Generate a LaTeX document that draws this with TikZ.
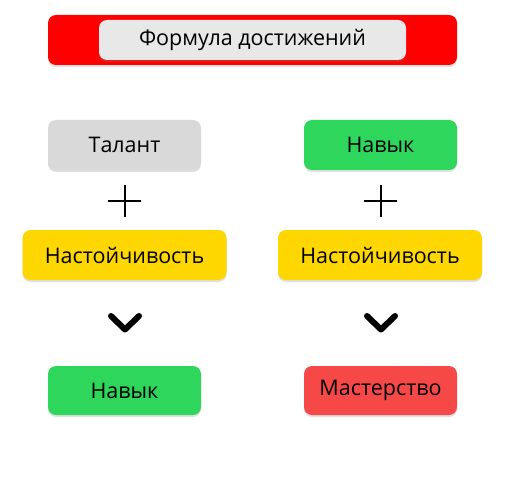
\documentclass[tikz,border=0pt]{standalone}
\usepackage{fontspec}
\setmainfont{Open Sans}
\usetikzlibrary{shadows}

\definecolor{titlered}{HTML}{FF0000}
\definecolor{titlegray}{HTML}{E8E8E8}
\definecolor{talentgray}{HTML}{D9D9D9}
\definecolor{skillgreen}{HTML}{2ED65B}
\definecolor{persistyellow}{HTML}{FFD700}
\definecolor{masteryred}{HTML}{F74848}

\begin{document}
\begin{tikzpicture}[x=1pt, y=-1pt,
        card/.style={rectangle, rounded corners=8pt, minimum width=153pt, minimum height=50pt,
            inner sep=0pt, font=\fontsize{21.5}{24}\selectfont,
            drop shadow={opacity=0.25, shadow xshift=0pt, shadow yshift=-2pt}},
        wide/.style={card, minimum width=204pt},
        sign/.style={line width=2pt},
        chevron/.style={line width=6pt, line cap=round, line join=round}]
        \useasboundingbox (0,0) rectangle (508,497);

        % Nodes
        \node (title) at (252.5,40) [card, fill=titlered, minimum width=409pt] {};
        \node (titletext) at (252.5,40) [card, fill=titlegray, minimum width=307pt, minimum height=40pt] {Формула достижений};
        \node (talent) at (124.5,145) [card, fill=talentgray] {Талант};
        \node (skilltop) at (380.5,145) [card, fill=skillgreen] {Навык};
        \node (persistleft) at (124.5,255) [wide, fill=persistyellow] {Настойчивость};
        \node (persistright) at (380,255) [wide, fill=persistyellow] {Настойчивость};
        \node (skillbottom) at (124.5,390.5) [card, fill=skillgreen, minimum height=49pt] {Навык};
        \node (mastery) at (380.5,390.5) [card, fill=masteryred, minimum height=49pt] {Мастерство};

        % Plus signs
        \draw[sign] (108,201) -- (141,201);
        \draw[sign] (124.5,185) -- (124.5,217);
        \draw[sign] (364,201) -- (397,201);
        \draw[sign] (380.5,185) -- (380.5,217);

        % Chevrons
        \draw[chevron] (111,316) -- (125,329.5) -- (139,316);
        \draw[chevron] (367,316) -- (381,329.5) -- (395,316);
    \end{tikzpicture}
\end{document}
